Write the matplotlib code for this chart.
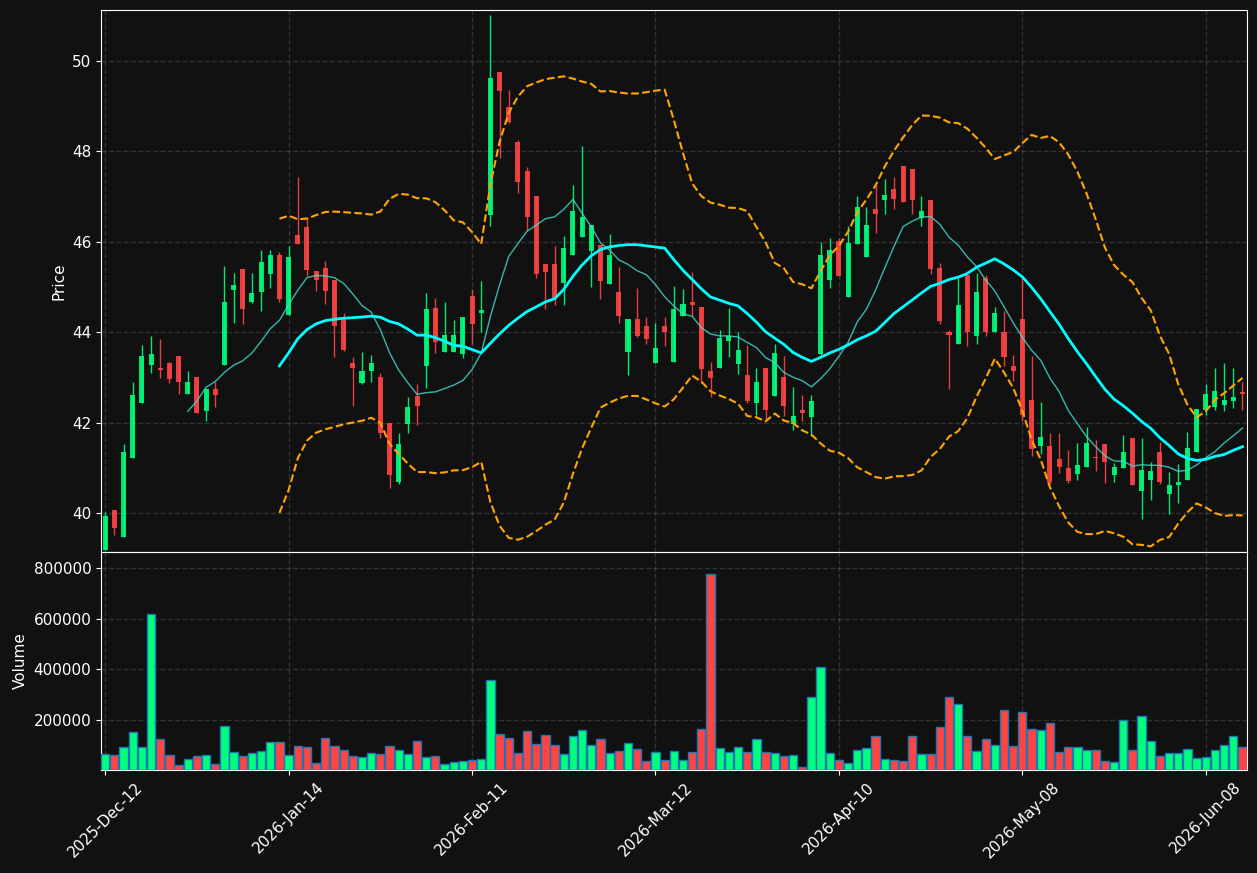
import matplotlib
matplotlib.use('Agg')
import matplotlib.pyplot as plt
import numpy as np
import pandas as pd

opens = [39.19, 40.07, 39.48, 41.23, 42.43, 43.28, 43.20, 43.31, 43.47, 42.64,
         43.00, 42.25, 42.74, 43.28, 44.93, 45.40, 44.66, 44.90, 45.28, 45.71,
         44.39, 46.15, 46.33, 45.35, 45.42, 45.15, 44.33, 43.31, 42.88, 43.15,
         43.00, 42.00, 40.69, 41.97, 42.58, 43.25, 44.53, 43.56, 43.56, 43.53,
         44.80, 44.43, 46.59, 49.75, 48.98, 48.21, 47.57, 47.02, 45.50, 45.50,
         45.09, 45.71, 46.11, 45.80, 45.92, 45.07, 44.89, 43.56, 44.29, 44.13,
         43.32, 44.13, 43.35, 44.36, 44.66, 44.56, 43.15, 43.22, 43.80, 43.29,
         43.05, 42.43, 43.20, 42.58, 43.02, 41.97, 42.27, 42.12, 43.53, 45.16,
         46.01, 44.78, 45.96, 45.67, 46.72, 46.93, 47.16, 47.68, 47.62, 46.52,
         46.92, 45.42, 44.00, 43.74, 45.27, 43.92, 45.19, 44.01, 44.01, 43.26,
         44.29, 42.51, 41.49, 41.49, 41.20, 41.00, 40.87, 41.03, 41.25, 41.53,
         40.85, 41.00, 41.67, 40.50, 40.73, 41.35, 40.42, 40.63, 40.73, 41.36,
         42.27, 42.35, 42.39, 42.47, 42.67]
highs = [40.02, 40.07, 41.53, 42.91, 43.72, 43.92, 43.86, 43.35, 43.47, 43.15,
         43.00, 42.74, 42.89, 45.47, 45.32, 45.40, 45.32, 45.82, 45.82, 45.77,
         45.90, 47.43, 46.55, 45.35, 45.57, 45.15, 44.43, 43.46, 43.57, 43.50,
         43.11, 42.00, 41.77, 42.56, 42.85, 44.86, 44.76, 44.66, 44.28, 44.33,
         44.96, 45.14, 51.01, 49.75, 49.36, 48.25, 47.65, 47.02, 45.50, 45.90,
         46.13, 47.26, 48.12, 46.37, 45.92, 46.17, 45.45, 44.29, 44.99, 44.33,
         44.20, 44.33, 45.03, 44.95, 45.34, 44.56, 43.35, 44.06, 44.53, 44.01,
         43.72, 43.20, 43.20, 43.74, 43.47, 42.78, 42.62, 42.62, 45.99, 46.08,
         46.09, 46.36, 47.02, 46.78, 47.25, 47.40, 47.43, 47.68, 47.62, 47.01,
         46.92, 45.53, 44.06, 45.20, 45.27, 45.32, 45.27, 44.55, 44.47, 43.49,
         45.24, 43.47, 42.45, 41.77, 41.77, 41.40, 41.54, 41.90, 41.61, 41.53,
         41.10, 41.72, 41.67, 41.66, 41.14, 41.58, 40.90, 41.08, 41.80, 42.31,
         42.85, 43.20, 43.32, 43.21, 42.89]
lows = [39.19, 39.51, 39.48, 41.21, 42.43, 43.11, 42.99, 42.88, 42.64, 42.64,
        42.21, 42.04, 42.35, 43.28, 44.20, 44.19, 44.64, 44.47, 44.97, 44.68,
        44.39, 45.95, 45.25, 44.91, 44.63, 43.45, 43.58, 42.37, 42.85, 42.91,
        41.67, 40.56, 40.64, 41.77, 41.94, 42.76, 43.55, 43.56, 43.56, 43.44,
        43.74, 44.01, 46.36, 47.85, 48.62, 47.09, 46.25, 45.20, 44.51, 44.60,
        44.60, 45.71, 46.11, 45.01, 44.74, 45.07, 44.20, 43.06, 43.89, 43.74,
        43.32, 43.70, 43.35, 44.36, 44.36, 42.88, 42.57, 43.22, 43.45, 43.07,
        42.43, 42.16, 42.08, 42.58, 42.14, 41.83, 42.04, 41.70, 43.47, 44.99,
        45.25, 44.78, 45.96, 45.67, 46.19, 46.61, 46.72, 46.89, 46.61, 46.36,
        45.28, 44.19, 42.75, 43.74, 43.70, 43.75, 43.92, 44.01, 43.26, 42.93,
        42.04, 41.27, 41.31, 40.65, 40.89, 40.66, 40.73, 41.03, 40.93, 40.66,
        40.68, 41.00, 40.63, 39.87, 40.29, 40.64, 39.98, 40.23, 40.73, 41.36,
        42.16, 42.27, 42.26, 42.33, 42.27]
closes = [39.94, 39.68, 41.35, 42.62, 43.47, 43.53, 43.16, 42.96, 42.91, 42.89,
          42.21, 42.74, 42.61, 44.66, 45.04, 44.52, 44.87, 45.55, 45.71, 44.74,
          45.66, 45.95, 45.38, 45.16, 44.91, 44.14, 43.61, 43.21, 43.15, 43.31,
          41.77, 40.85, 41.53, 42.34, 42.37, 44.51, 43.78, 43.93, 43.93, 44.33,
          44.19, 44.49, 49.63, 49.34, 48.66, 47.32, 46.55, 45.28, 45.34, 44.73,
          45.86, 46.68, 46.55, 46.37, 45.13, 45.71, 44.37, 44.29, 43.92, 43.85,
          43.66, 44.01, 44.51, 44.62, 44.60, 43.18, 42.98, 43.87, 43.92, 43.60,
          42.47, 42.89, 42.27, 43.55, 42.37, 42.14, 42.22, 42.49, 45.71, 45.81,
          45.25, 45.98, 46.77, 46.37, 46.62, 47.03, 46.95, 46.89, 46.93, 46.68,
          45.40, 44.24, 43.94, 44.60, 44.01, 44.89, 44.01, 44.43, 43.45, 43.14,
          42.17, 41.41, 41.69, 40.69, 41.03, 40.72, 41.06, 41.56, 41.21, 41.14,
          41.03, 41.35, 40.63, 40.95, 40.94, 40.69, 40.62, 40.69, 41.44, 42.31,
          42.64, 42.71, 42.51, 42.56, 42.64]
volumes = [62000, 58000, 93000, 149000, 90000, 619000, 121000, 58000, 18000, 42000,
           54000, 58000, 22000, 176000, 70000, 54000, 66000, 74000, 113000, 113000,
           58000, 97000, 90000, 26000, 125000, 97000, 78000, 54000, 50000, 66000,
           62000, 97000, 78000, 62000, 117000, 50000, 54000, 22000, 30000, 34000,
           38000, 42000, 358000, 141000, 125000, 66000, 153000, 105000, 137000, 101000,
           62000, 133000, 157000, 101000, 121000, 66000, 74000, 109000, 82000, 34000,
           70000, 38000, 74000, 38000, 70000, 161000, 776000, 86000, 70000, 93000,
           70000, 121000, 70000, 66000, 54000, 58000, 11000, 291000, 409000, 66000,
           38000, 26000, 78000, 86000, 133000, 42000, 38000, 34000, 133000, 62000,
           62000, 172000, 291000, 263000, 133000, 74000, 121000, 101000, 240000, 97000,
           232000, 161000, 157000, 188000, 70000, 93000, 93000, 78000, 78000, 34000,
           30000, 200000, 78000, 216000, 117000, 54000, 66000, 66000, 82000, 46000,
           50000, 78000, 101000, 133000, 93000]
tick_labels = ['2025-Dec-12', '2026-Jan-14', '2026-Feb-11', '2026-Mar-12',
               '2026-Apr-10', '2026-May-08', '2026-Jun-08']

bg = '#111111'
up_col = '#00ff7f'
down_col = '#ff4444'

o = np.array(opens)
h = np.array(highs)
l = np.array(lows)
c = np.array(closes)
x = np.arange(len(c))
up = c >= o
cols = np.where(up, up_col, down_col)

close_s = pd.Series(c)
ma10 = close_s.rolling(10).mean()
ma20 = close_s.rolling(20).mean()
sd20 = close_s.rolling(20).std(ddof=0)
upper = ma20 + 2 * sd20
lower = ma20 - 2 * sd20

fig = plt.figure(figsize=(12.57, 8.73), dpi=100, facecolor=bg)
ax = fig.add_axes([0.0804, 0.3677, 0.9117, 0.6209], facecolor=bg)
axv = fig.add_axes([0.0804, 0.118, 0.9117, 0.2497], facecolor=bg, sharex=ax)

# candles
ax.vlines(x, l, h, colors=cols, linewidth=1, alpha=0.9, zorder=3)
ax.bar(x, np.abs(c - o), bottom=np.minimum(o, c), width=0.55, color=cols,
       alpha=0.9, linewidth=0, zorder=4)

ax.plot(x, ma10, color='#40e0d0', linewidth=1, alpha=0.8, zorder=5)
ax.plot(x, ma20, color='#00ffff', linewidth=2, zorder=5)
ax.plot(x, upper, color='orange', linewidth=1.5, linestyle='--', zorder=5)
ax.plot(x, lower, color='orange', linewidth=1.5, linestyle='--', zorder=5)

axv.bar(x, volumes, width=0.9, color=cols, edgecolor='#1f77b4', linewidth=1, zorder=3)

ax.set_xlim(-0.45, 124.5)
ax.set_ylim(39.14, 51.13)
ax.set_yticks([40, 42, 44, 46, 48, 50])
axv.set_ylim(0, 865000)
axv.set_yticks([200000, 400000, 600000, 800000])
axv.ticklabel_format(axis='y', style='plain')

ticks = np.arange(0, 121, 20)
axv.set_xticks(ticks)
axv.set_xticklabels(tick_labels, rotation=45, fontsize=11)
plt.setp(ax.get_xticklabels(), visible=False)
ax.tick_params(axis='x', length=0)

ax.set_ylabel('Price', color='white', fontsize=11)
axv.set_ylabel('Volume', color='white', fontsize=11)

for a in (ax, axv):
    a.grid(True, linestyle='--', color='gray', alpha=0.3, linewidth=1)
    a.set_axisbelow(True)
    a.tick_params(colors='white', labelsize=11)
    for s in a.spines.values():
        s.set_color('white')

fig.savefig('out.png', dpi=100, facecolor=bg)
